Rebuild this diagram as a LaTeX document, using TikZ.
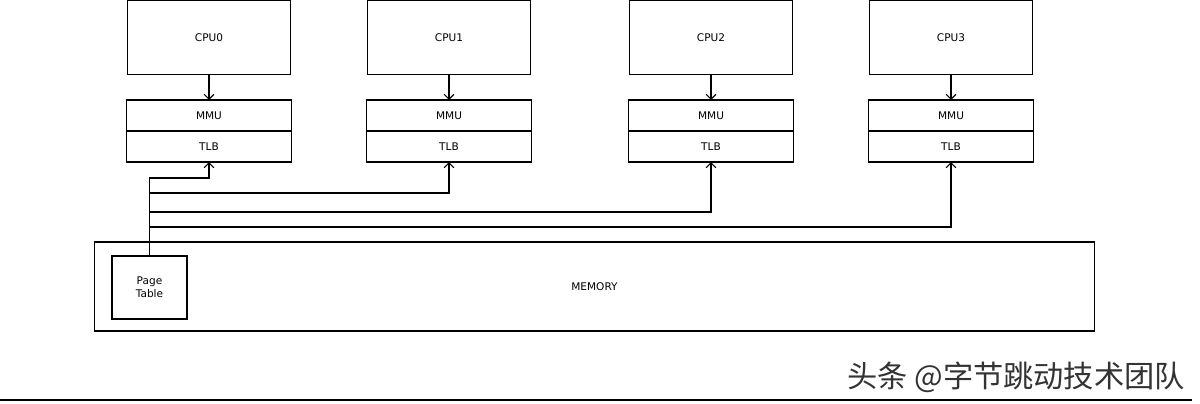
\documentclass[tikz,border=0pt]{standalone}
\usepackage{fontspec}
\setmainfont{DejaVu Sans}
\newfontfamily\cjkfont{Noto Sans CJK SC}
\usetikzlibrary{arrows.meta,positioning}

\tikzset{
  box/.style={draw, thick, inner sep=0pt, outer sep=0pt, font=\fontsize{7.5}{9}\selectfont},
  cpubox/.style={box, minimum width=4.075cm, minimum height=1.85cm},
  unitbox/.style={box, minimum width=4.125cm, minimum height=0.775cm},
  link/.style={thick, -{Straight Barb[length=3.5pt,width=7pt]}}
}

\begin{document}
\begin{tikzpicture}[x=0.025cm, y=-0.025cm]
  \useasboundingbox (0,0) rectangle (1200,403);

  % cpus with their mmu / tlb
  \foreach \i/\x in {0/209,1/449,2/711,3/951} {
    \node[cpubox] (cpu\i) at (\x,37.5) {CPU\i};
    \node[unitbox] (mmu\i) at (\x,115.5) {MMU};
    \node[unitbox, below=0pt of mmu\i] (tlb\i) {TLB};
    \draw[link] (cpu\i.south) -- (mmu\i.north);
  }

  % memory
  \node[box, minimum width=24.975cm, minimum height=2.225cm] (mem) at (594.5,286.5) {MEMORY};
  \node[box, align=center, minimum width=1.875cm, minimum height=1.575cm] (pt) at (149.5,287.5) {Page\\Table};

  % page table walks
  \foreach \i/\y in {0/178,1/193,2/212,3/227}
    \draw[link] (pt.north) |- (tlb\i.south |- 0,\y) -- (tlb\i.south);

  \node[font=\cjkfont\fontsize{21.5}{24}\selectfont, text=black!80] (mark) at (1016,377) {头条 @字节跳动技术团队};
  \draw[thick] (0,400) -- (1192,400);
\end{tikzpicture}
\end{document}
